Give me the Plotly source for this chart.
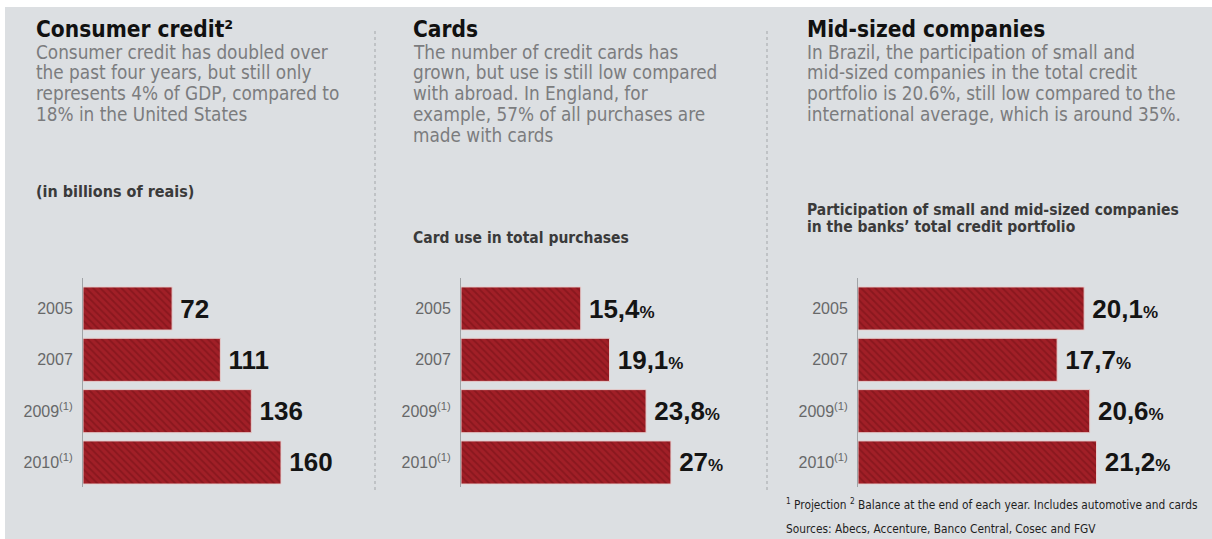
import plotly.graph_objects as go

W, H = 1212, 539

# ---- data -------------------------------------------------------------
years = ["2005", "2007", "2009<sup>(1)</sup>", "2010<sup>(1)</sup>"]
consumer_credit = [72, 111, 136, 160]          # billions of reais
card_use = [15.4, 19.1, 23.8, 27]              # % of total purchases
mid_sized_share = [20.1, 17.7, 20.6, 21.2]     # % of banks' credit portfolio

titles = ["Consumer credit²", "Cards", "Mid-sized companies"]
descriptions = [
    ["Consumer credit has doubled over",
     "the past four years, but still only",
     "represents 4% of GDP, compared to",
     "18% in the United States"],
    ["The number of credit cards has",
     "grown, but use is still low compared",
     "with abroad. In England, for",
     "example, 57% of all purchases are",
     "made with cards"],
    ["In Brazil, the participation of small and",
     "mid-sized companies in the total credit",
     "portfolio is 20.6%, still low compared to the",
     "international average, which is around 35%."],
]
subheads = [
    ["(in billions of reais)"],
    ["Card use in total purchases"],
    ["Participation of small and mid-sized companies",
     "in the banks’ total credit portfolio"],
]
footnotes = [
    "<sup>1</sup> Projection <sup>2</sup> Balance at the end of each year. Includes automotive and cards",
    "Sources: Abecs, Accenture, Banco Central, Cosec and FGV",
]

# ---- styling ----------------------------------------------------------
NARROW = "DejaVu Sans Condensed, Liberation Sans Narrow, Arial Narrow, sans-serif"
SANS = "Liberation Sans, Arial, sans-serif"
BG = "#dcdfe2"
BAR = "#a11f27"
STRIPE = "#741016"


def px_x(x):
    return x / W


def px_y(y):
    return 1 - y / H


def fmt_value(v, pct):
    s = "\u2009" + f"{v:g}".replace(".", ",")
    if pct:
        s += "<span style='font-size:17px'>%</span>"
    return s


# panel geometry: axis position, right end of axis domain, px per unit
panels = [
    dict(values=consumer_credit, pct=False, x0=83, x1=360, scale=1.2375, tx=35, div=375),
    dict(values=card_use, pct=True, x0=461, x1=755, scale=7.775, tx=412, div=767),
    dict(values=mid_sized_share, pct=True, x0=858, x1=1205, scale=11.25, tx=806, div=None),
]

# category axis: bar centres at 308.5px with 51.33px pitch, axis 278..487px
Y_TOP, Y_BOT, PITCH, C0 = 278, 487, 51.33, 308.5
y_range = [3 + (Y_BOT - (C0 + 3 * PITCH)) / PITCH, -(C0 - Y_TOP) / PITCH]

fig = go.Figure()
layout = dict(
    width=W, height=H,
    margin=dict(l=0, r=0, t=0, b=0),
    paper_bgcolor="white",
    plot_bgcolor="rgba(0,0,0,0)",
    showlegend=False,
    bargap=0.16,
)

shapes = [
    dict(type="rect", xref="paper", yref="paper", x0=px_x(5), x1=1,
         y0=0, y1=px_y(7), fillcolor=BG, line_width=0, layer="below"),
]
annotations = []

sub_sizes = [16, 15.5, 15.5]
sub_y = [191, 238, 210]

for i, p in enumerate(panels):
    n = "" if i == 0 else str(i + 1)
    xa, ya = "x" + n, "y" + n
    fig.add_trace(go.Bar(
        x=p["values"], y=list(range(len(years))), orientation="h",
        xaxis=xa, yaxis=ya,
        marker=dict(
            color=BAR,
            line=dict(color="#e6cfcf", width=1),
            pattern=dict(shape="\\", fgcolor=STRIPE, bgcolor=BAR, size=5, solidity=0.4),
        ),
        text=[fmt_value(v, p["pct"]) for v in p["values"]],
        textposition="outside",
        textfont=dict(family=SANS, size=26, color="#141414", weight="bold"),
        cliponaxis=False,
        hoverinfo="skip",
    ))
    span = (p["x1"] - p["x0"]) / p["scale"]
    layout["xaxis" + n] = dict(
        domain=[px_x(p["x0"]), px_x(p["x1"])], range=[0, span],
        anchor=ya, visible=False, fixedrange=True,
    )
    layout["yaxis" + n] = dict(
        domain=[px_y(Y_BOT), px_y(Y_TOP)], range=y_range,
        anchor=xa, tickmode="array", tickvals=list(range(len(years))), ticktext=years,
        tickfont=dict(family=SANS, size=16, color="#676869"),
        ticks="outside", ticklen=6, tickcolor="rgba(0,0,0,0)",
        showline=True, linecolor="#a0a3a6", linewidth=1,
        showgrid=False, zeroline=False, fixedrange=True,
    )

    # headline, description and sub-heading
    annotations.append(dict(
        text=titles[i], x=px_x(p["tx"] - 1), y=px_y(29), xref="paper", yref="paper",
        xanchor="left", yanchor="middle", showarrow=False,
        font=dict(family=NARROW, size=22.5, color="#111111", weight="bold"),
    ))
    for k, line in enumerate(descriptions[i]):
        annotations.append(dict(
            text=line, x=px_x(p["tx"] - 1), y=px_y(52 + 20.8 * k), xref="paper", yref="paper",
            xanchor="left", yanchor="middle", showarrow=False,
            font=dict(family=NARROW, size=18.8, color="#7b7c7e"),
        ))
    for k, line in enumerate(subheads[i]):
        annotations.append(dict(
            text=line, x=px_x(p["tx"] - 1), y=px_y(sub_y[i] + 17 * k), xref="paper", yref="paper",
            xanchor="left", yanchor="middle", showarrow=False,
            font=dict(family=NARROW, size=sub_sizes[i], color="#3a3a3a", weight="bold"),
        ))

    if p["div"] is not None:
        shapes.append(dict(
            type="line", xref="paper", yref="paper",
            x0=px_x(p["div"]), x1=px_x(p["div"]), y0=px_y(490), y1=px_y(28),
            line=dict(color="#a3a6a9", width=1, dash="dot"),
        ))

for k, line in enumerate(footnotes):
    annotations.append(dict(
        text=line, x=px_x(784), y=px_y(504 + 25 * k), xref="paper", yref="paper",
        xanchor="left", yanchor="middle", showarrow=False,
        font=dict(family=NARROW, size=11.8, color="#1e1e1e"),
    ))

layout["shapes"] = shapes
layout["annotations"] = annotations
fig.update_layout(**layout)

fig.write_html("out.html")
